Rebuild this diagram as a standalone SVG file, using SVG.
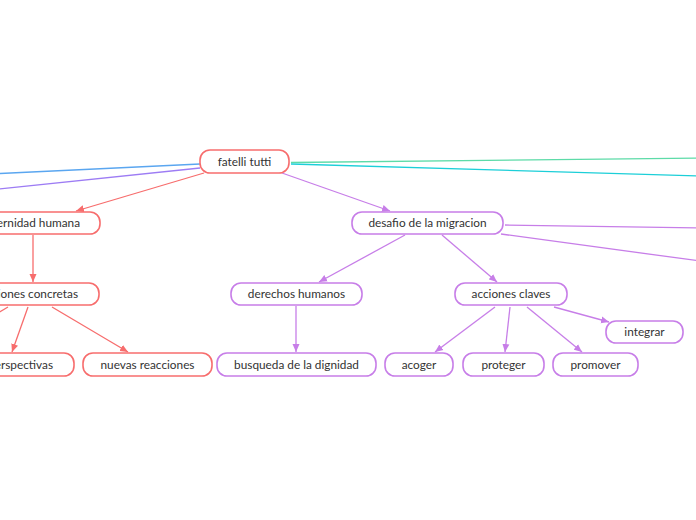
<svg xmlns="http://www.w3.org/2000/svg" width="696" height="520" viewBox="0 0 696 520">
<defs>
<style>
.t{font-family:Lato,"Noto Sans","Liberation Sans",sans-serif;font-size:11.8px;fill:#333;}
.bx{fill:#fff;stroke-width:1.6;}
.r{stroke:#f76d6d;}
.p{stroke:#c77ee8;}
.ln{fill:none;stroke-width:1.3;}
</style>
<marker id="ar" viewBox="0 0 8 8" refX="8" refY="4" markerWidth="8" markerHeight="8" markerUnits="userSpaceOnUse" orient="auto"><path d="M0,0.5 L8,4 L0,7.5 z" fill="#f76d6d"/></marker>
<marker id="ap" viewBox="0 0 8 8" refX="8" refY="4" markerWidth="8" markerHeight="8" markerUnits="userSpaceOnUse" orient="auto"><path d="M0,0.5 L8,4 L0,7.5 z" fill="#c77ee8"/></marker>
</defs>
<rect width="696" height="520" fill="#fff"/>
<g id="connectors">
<line class="ln" x1="200" y1="164" x2="-10" y2="174" stroke="#5aa6f0"/>
<line class="ln" x1="200" y1="168" x2="-10" y2="190" stroke="#9d7cf4"/>
<line class="ln" x1="291" y1="162.5" x2="700" y2="158" stroke="#5ddba8"/>
<line class="ln" x1="291" y1="164" x2="700" y2="176" stroke="#1ccfd8"/>
<line class="ln r" x1="204" y1="173" x2="76" y2="211" marker-end="url(#ar)"/>
<line class="ln r" x1="33" y1="235" x2="33" y2="282" marker-end="url(#ar)"/>
<line class="ln r" x1="8" y1="307" x2="-4" y2="314"/>
<line class="ln r" x1="28" y1="307" x2="12" y2="352" marker-end="url(#ar)"/>
<line class="ln r" x1="52" y1="307" x2="128" y2="352" marker-end="url(#ar)"/>
<line class="ln p" x1="282" y1="173" x2="390" y2="211" marker-end="url(#ap)"/>
<line class="ln p" x1="505" y1="225" x2="700" y2="228"/>
<line class="ln p" x1="501" y1="234" x2="700" y2="261"/>
<line class="ln p" x1="405" y1="235" x2="319" y2="282" marker-end="url(#ap)"/>
<line class="ln p" x1="442" y1="235" x2="497" y2="282" marker-end="url(#ap)"/>
<line class="ln p" x1="296" y1="306" x2="296" y2="352" marker-end="url(#ap)"/>
<line class="ln p" x1="495" y1="307" x2="435" y2="352" marker-end="url(#ap)"/>
<line class="ln p" x1="510" y1="307" x2="505" y2="352" marker-end="url(#ap)"/>
<line class="ln p" x1="527" y1="307" x2="582" y2="352" marker-end="url(#ap)"/>
<line class="ln p" x1="554" y1="307" x2="609" y2="322" marker-end="url(#ap)"/>
</g>
<g id="root"><rect class="bx r" x="200" y="150" width="89" height="23" rx="10"/><text class="t" x="244.5" y="165.5" text-anchor="middle">fatelli tutti</text></g>
<g id="fraternidad"><rect class="bx r" x="-40" y="212" width="140" height="22" rx="10"/><text class="t" x="80" y="227" text-anchor="end">fraternidad humana</text></g>
<g id="acciones-concretas"><rect class="bx r" x="-42" y="283" width="141" height="22" rx="10"/><text class="t" x="78" y="298" text-anchor="end">acciones concretas</text></g>
<g id="perspectivas"><rect class="bx r" x="-44" y="353" width="118" height="23" rx="10"/><text class="t" x="53" y="368.5" text-anchor="end">perspectivas</text></g>
<g id="nuevas-reacciones"><rect class="bx r" x="83" y="353" width="129" height="23" rx="10"/><text class="t" x="147.5" y="368.5" text-anchor="middle">nuevas reacciones</text></g>
<g id="desafio"><rect class="bx p" x="352" y="212" width="151" height="22" rx="10"/><text class="t" x="427.5" y="227" text-anchor="middle">desafio de la migracion</text></g>
<g id="derechos"><rect class="bx p" x="231" y="283" width="131" height="22" rx="10"/><text class="t" x="296.5" y="298" text-anchor="middle">derechos humanos</text></g>
<g id="busqueda"><rect class="bx p" x="217" y="353" width="159" height="23" rx="10"/><text class="t" x="296.5" y="368.5" text-anchor="middle">busqueda de la dignidad</text></g>
<g id="acciones-claves"><rect class="bx p" x="455" y="283" width="112" height="22" rx="10"/><text class="t" x="511" y="298" text-anchor="middle">acciones claves</text></g>
<g id="integrar"><rect class="bx p" x="606" y="321" width="77" height="22" rx="10"/><text class="t" x="644.5" y="336" text-anchor="middle">integrar</text></g>
<g id="acoger"><rect class="bx p" x="385" y="353" width="68" height="23" rx="10"/><text class="t" x="419" y="368.5" text-anchor="middle">acoger</text></g>
<g id="proteger"><rect class="bx p" x="463" y="353" width="81" height="23" rx="10"/><text class="t" x="503.5" y="368.5" text-anchor="middle">proteger</text></g>
<g id="promover"><rect class="bx p" x="553" y="353" width="85" height="23" rx="10"/><text class="t" x="595.5" y="368.5" text-anchor="middle">promover</text></g>
</svg>
